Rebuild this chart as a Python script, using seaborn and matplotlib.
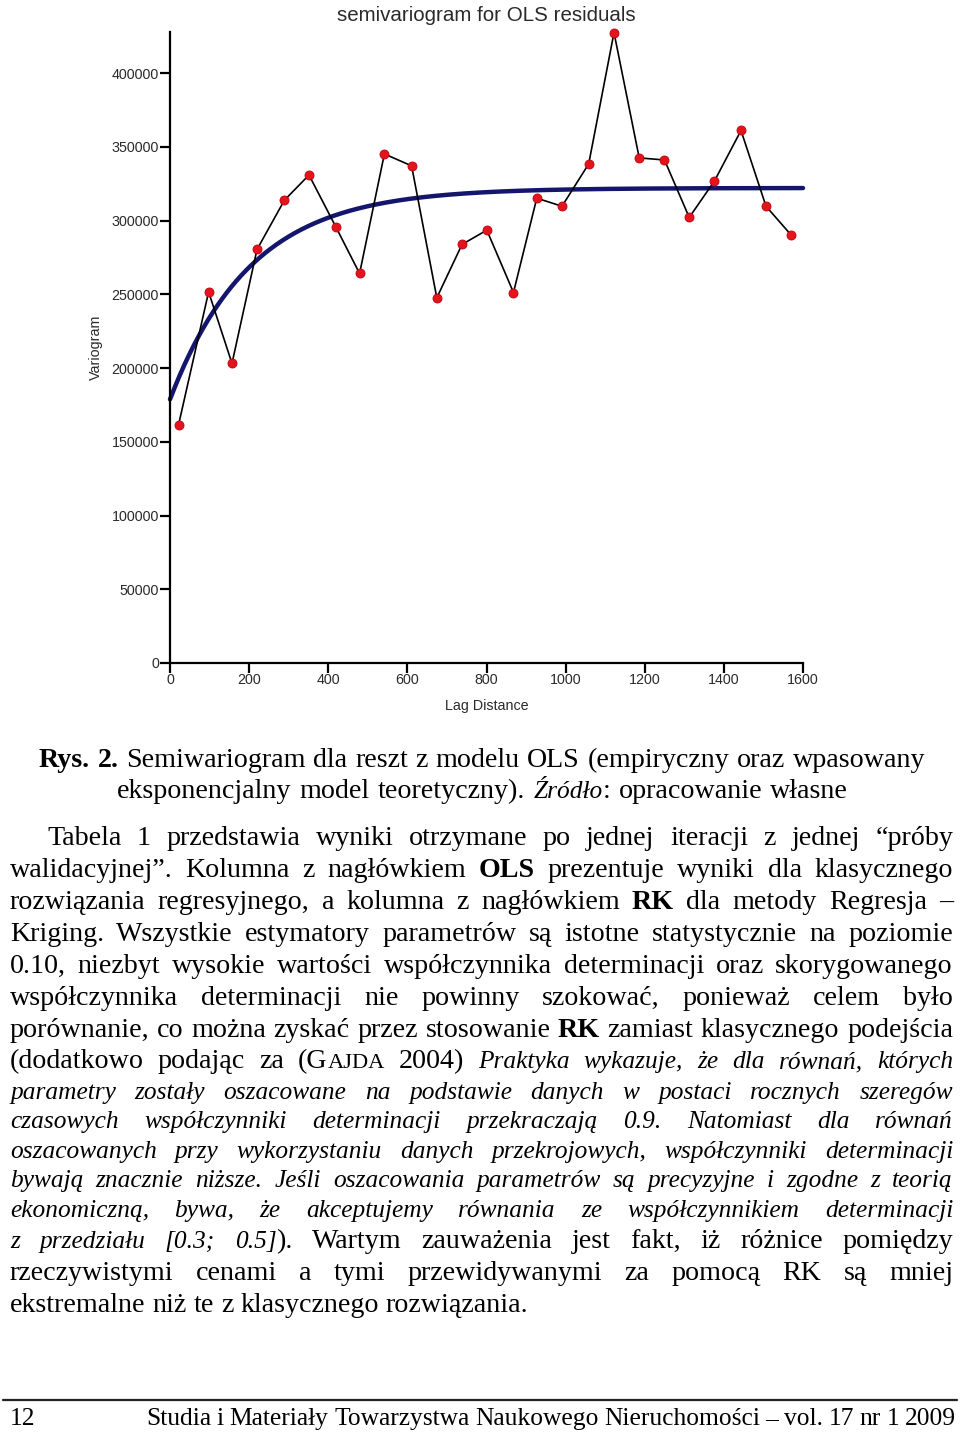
import numpy as np
import pandas as pd
import matplotlib
matplotlib.use("Agg")
import matplotlib.pyplot as plt
import seaborn as sns
from matplotlib.font_manager import FontProperties
from matplotlib.lines import Line2D

# ---------------- data ----------------
lag = [21.5, 97.6, 156.7, 219.9, 289.2, 351.3, 419.6, 479.2, 541.9, 610.7,
       674.4, 738.1, 800.8, 868.2, 927.1, 990.8, 1058.3, 1122.3, 1186.0,
       1249.9, 1312.4, 1376.3, 1443.3, 1506.5, 1569.7]
gamma = [161400, 251700, 203200, 280500, 313900, 331000, 295600, 264200,
         345300, 337200, 247700, 283900, 293600, 251300, 315300, 309800,
         338500, 427600, 342600, 341200, 302200, 327000, 361200, 309800,
         290400]
# fitted exponential model parameters
nugget = 178800
partial_sill = 143400
range_a = 204
model_lag = np.linspace(0, 1600, 401)
model_gamma = nugget + partial_sill * (1 - np.exp(-model_lag / range_a))

x_ticks = [0, 200, 400, 600, 800, 1000, 1200, 1400, 1600]
y_ticks = [0, 50000, 100000, 150000, 200000, 250000, 300000, 350000, 400000]

emp = pd.DataFrame({"lag": lag, "gamma": gamma})
mod = pd.DataFrame({"lag": model_lag, "gamma": model_gamma})

# ---------------- figure ----------------
sns.set_theme(style="ticks")
plt.rcParams["font.family"] = ["Liberation Sans", "DejaVu Sans"]
W, H = 960, 1438
fig = plt.figure(figsize=(W / 100, H / 100), dpi=100)
fig.patch.set_facecolor("white")

ax = fig.add_axes([170 / W, 1 - 663 / H, 633 / W, 631 / H])
ax.set_facecolor("white")
sns.lineplot(data=mod, x="lag", y="gamma", ax=ax, color="#14166e",
             linewidth=3.2, zorder=2)
sns.lineplot(data=emp, x="lag", y="gamma", ax=ax, color="black",
             linewidth=1.2, marker="o", markersize=6.5,
             markerfacecolor="#e3141b", markeredgecolor="#c00010",
             markeredgewidth=0.6, zorder=3)
for ln in ax.lines:
    ln.set_clip_on(False)

ax.set_xlim(0, 1600)
ax.set_ylim(0, 428000)
ax.set_xticks(x_ticks)
ax.set_yticks(y_ticks)
ax.set_xticklabels([str(v) for v in x_ticks])
ax.set_yticklabels([str(v) for v in y_ticks])
for s in ["top", "right"]:
    ax.spines[s].set_visible(False)
for s in ["left", "bottom"]:
    ax.spines[s].set_linewidth(1.6)
    ax.spines[s].set_color("black")
ax.tick_params(axis="both", length=7, width=1.6, colors="black",
               labelsize=10.3, labelcolor="#2a2a2a")
ax.tick_params(axis="x", pad=0)
ax.tick_params(axis="y", pad=1)
ax.set_xlabel("Lag Distance", fontsize=10.3, color="#2a2a2a", labelpad=9)
ax.set_ylabel("Variogram", fontsize=10.3, color="#2a2a2a", labelpad=6)
ax.set_title("semivariogram for OLS residuals", fontsize=14.8,
             color="#2a2a2a", pad=8)

# ---------------- page text ----------------
F = 20.2
FI = 18.3
FP = {
    "R": FontProperties(family="Liberation Serif", size=F),
    "B": FontProperties(family="Liberation Serif", size=F, weight="bold"),
    "I": FontProperties(family="Liberation Serif", size=FI, style="italic"),
    "S": FontProperties(family="Liberation Serif", size=F * 0.8),
    "F": FontProperties(family="Liberation Serif", size=18.4),
}
renderer = fig.canvas.get_renderer()


def measure(txt, fp):
    t = fig.text(0, 0, txt, fontproperties=fp)
    w = t.get_window_extent(renderer).width
    t.remove()
    return w


def words_from(segs):
    words = [[]]
    for text, st in segs:
        parts = text.split(" ")
        for i, p in enumerate(parts):
            if i > 0:
                words.append([])
            if p:
                words[-1].append((p, st))
    return [w for w in words if w]


def draw_line(segs, x0, x1, ybase, justify=True):
    ws = words_from(segs)
    widths = [sum(measure(t, FP[s]) for t, s in w) for w in ws]
    total = sum(widths)
    st0 = segs[0][1]
    natural = measure("n n", FP[st0]) - measure("nn", FP[st0])
    if justify and len(ws) > 1:
        gap = max((x1 - x0 - total) / (len(ws) - 1), natural * 0.6)
    else:
        gap = natural
    x = x0
    for w, wd in zip(ws, widths):
        for t, s in w:
            fig.text(x / W, 1 - ybase / H, t, fontproperties=FP[s],
                     va="baseline", ha="left", color="black")
            x += measure(t, FP[s])
        x += gap


lines = [
    ([("Rys. 2.", "B"), (" Semiwariogram dla reszt z modelu OLS (empiryczny oraz wpasowany", "R")], 39, 925, 767, True),
    ([("eksponencjalny model teoretyczny). ", "R"), ("Źródło", "I"), (": opracowanie własne", "R")], 117, 848, 798, True),
    ([("Tabela 1 przedstawia wyniki otrzymane po jednej iteracji z jednej “próby", "R")], 47, 953, 845, True),
    ([("walidacyjnej”. Kolumna z nagłówkiem ", "R"), ("OLS", "B"), (" prezentuje wyniki dla klasycznego", "R")], 10, 953, 877, True),
    ([("rozwiązania regresyjnego, a kolumna z nagłówkiem ", "R"), ("RK", "B"), (" dla metody Regresja –", "R")], 10, 953, 909, True),
    ([("Kriging. Wszystkie estymatory parametrów są istotne statystycznie na poziomie", "R")], 10, 953, 941, True),
    ([("0.10, niezbyt wysokie wartości współczynnika determinacji oraz skorygowanego", "R")], 10, 953, 973, True),
    ([("współczynnika determinacji nie powinny szokować, ponieważ celem było", "R")], 10, 953, 1005, True),
    ([("porównanie, co można zyskać przez stosowanie ", "R"), ("RK", "B"), (" zamiast klasycznego podejścia", "R")], 10, 953, 1037, True),
    ([("(dodatkowo podając za (G", "R"), ("AJDA", "S"), (" 2004) ", "R"), ("Praktyka wykazuje, że dla równań, których", "I")], 10, 953, 1068, True),
    ([("parametry zostały oszacowane na podstawie danych w postaci rocznych szeregów", "I")], 10, 953, 1099, True),
    ([("czasowych współczynniki determinacji przekraczają 0.9. Natomiast dla równań", "I")], 10, 953, 1128, True),
    ([("oszacowanych przy wykorzystaniu danych przekrojowych, współczynniki determinacji", "I")], 10, 953, 1158, True),
    ([("bywają znacznie niższe. Jeśli oszacowania parametrów są precyzyjne i zgodne z teorią", "I")], 10, 953, 1187, True),
    ([("ekonomiczną, bywa, że akceptujemy równania ze współczynnikiem determinacji", "I")], 10, 953, 1217, True),
    ([("z przedziału [0.3; 0.5]", "I"), ("). Wartym zauważenia jest fakt, iż różnice pomiędzy", "R")], 10, 953, 1248, True),
    ([("rzeczywistymi cenami a tymi przewidywanymi za pomocą RK są mniej", "R")], 10, 953, 1280, True),
    ([("ekstremalne niż te z klasycznego rozwiązania.", "R")], 10, 531, 1312, False),
    ([("12", "F")], 10, 40, 1425, False),
    ([("Studia i Materiały Towarzystwa Naukowego Nieruchomości – vol. 17 nr 1 2009", "F")], 146, 956, 1425, True),
]
for segs, x0, x1, yb, just in lines:
    draw_line(segs, x0, x1, yb, just)

fig.add_artist(Line2D([3 / W, 957 / W], [1 - 1400 / H, 1 - 1400 / H],
                      transform=fig.transFigure, color="#222222", linewidth=1.6))

fig.savefig("out.png", dpi=100, facecolor="white")
